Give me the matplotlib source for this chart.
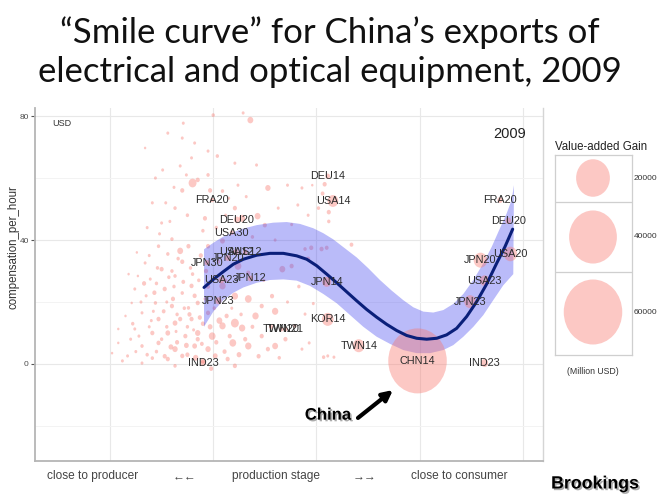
import matplotlib
matplotlib.use("Agg")
import matplotlib.pyplot as plt
import matplotlib.patheffects as pe
from matplotlib.path import Path
from matplotlib.transforms import Affine2D

# background cloud of exporters (production stage, compensation per hour, value-added gain)
cloud_x = [2.00, 2.29, 2.36, 1.71, 1.56, 1.70, 1.34, 1.82, 1.95, 2.04, 1.79, 1.68, 1.51, 1.95, 2.21, 2.42,
           2.53, 1.80, 1.85, 1.70, 1.44, 1.41, 1.50, 1.63, 1.75, 1.92, 2.21, 2.28, 2.43, 2.50, 2.09, 2.15,
           1.97, 2.24, 2.86, 2.82, 2.92, 3.06, 3.12, 2.72, 2.63, 3.02, 2.96, 3.08, 3.12, 3.34, 2.95, 3.10,
           2.93, 3.07, 3.17, 2.97,
           1.68, 1.76, 1.56, 1.34, 1.50, 1.63, 1.39, 1.24, 1.53, 1.70, 1.79, 1.44, 1.60, 1.76, 1.31, 1.15,
           1.47, 1.63, 1.79, 1.24, 1.41, 1.56, 1.73, 1.85, 1.08, 1.31, 1.47, 1.63, 1.82, 1.95, 1.17, 1.41,
           1.56, 1.70, 2.02, 2.14, 1.99, 2.09, 2.21, 2.28, 2.34, 2.21, 2.13, 2.41, 2.19, 2.34, 2.47, 2.53,
           2.60, 2.70, 2.47, 2.57, 2.60, 2.67, 2.76, 2.92, 3.05, 2.89, 1.95, 2.09, 2.24, 2.34, 2.09, 1.85,
           1.95, 2.21, 1.31, 1.63, 1.02, 1.08, 1.21, 1.27, 1.47, 1.60, 2.79, 2.86, 2.89, 3.11,
           1.35, 1.45, 1.55, 1.65, 1.75, 1.85, 1.50, 1.40, 1.30, 1.20, 1.60, 1.70, 1.80, 1.90, 1.95, 1.55,
           1.45, 1.65, 1.75, 1.90, 1.25, 1.38, 1.48, 1.58, 1.90, 1.62, 1.72, 1.82, 1.88, 1.42]
cloud_y = [80.3, 81.0, 78.7, 77.7, 74.5, 72.9, 69.7, 71.3, 68.7, 67.1, 66.5, 63.9, 62.6, 61.0, 64.8, 64.2,
           56.8, 58.4, 59.4, 56.0, 60.0, 52.0, 45.5, 50.3, 48.0, 47.0, 50.3, 47.0, 47.7, 44.8, 55.8, 53.5,
           56.0, 57.7, 56.8, 51.3, 48.0, 55.0, 49.0, 57.7, 50.3, 50.3, 57.7, 58.0, 46.0, 38.5, 37.5, 37.5,
           6.8, 2.2, 2.2, 19.5,
           36.5, 38.0, 35.5, 32.6, 30.6, 28.4, 27.4, 24.2, 24.2, 22.9, 25.2, 19.7, 18.7, 18.1, 16.5, 15.5,
           14.5, 13.2, 14.5, 11.3, 10.0, 10.0, 9.0, 10.0, 6.8, 5.8, 6.8, 4.8, 5.8, 4.8, 2.6, 1.9,
           1.6, 2.6, 2.6, 1.6, 9.0, 12.3, 13.2, 11.6, 21.0, 21.9, 15.5, 15.5, 6.8, 5.8, 9.0, 4.8,
           5.8, 8.0, 18.7, 21.9, 17.0, 30.6, 31.6, 33.9, 37.1, 37.1, 38.0, 39.7, 31.6, 29.4, 25.2, 19.7,
           16.5, -0.6, 0.3, -0.6, 3.5, 11.3, 19.7, 28.4, 38.0, 40.3, 12.3, 4.8, 16.1, 2.6,
           22.0, 26.0, 20.0, 16.0, 12.0, 8.0, 8.0, 14.0, 20.0, 8.0, 30.0, 33.0, 29.0, 13.0, 25.0, 12.0,
           4.0, 7.0, 3.0, 1.0, 4.0, 35.0, 42.0, 46.0, 43.0, 25.0, 18.0, 22.0, 35.0, 17.0]
cloud_v = [200, 150, 600, 150, 150, 150, 100, 150, 150, 200, 150, 150, 150, 200, 150, 150,
           500, 1100, 300, 300, 150, 150, 150, 200, 200, 300, 300, 700, 600, 300, 200, 150,
           300, 150, 150, 150, 150, 250, 300, 150, 150, 200, 100, 300, 200, 250, 300, 250,
           150, 200, 150, 150,
           600, 300, 200, 150, 300, 200, 150, 150, 300, 200, 300, 200, 300, 200, 150, 100,
           300, 400, 300, 150, 300, 400, 300, 500, 100, 200, 300, 500, 400, 500, 150, 200,
           300, 300, 400, 300, 800, 700, 1100, 700, 800, 700, 300, 700, 800, 700, 300, 300,
           600, 300, 300, 300, 700, 600, 300, 300, 300, 200, 300, 400, 800, 300, 700, 300,
           300, 300, 150, 200, 100, 100, 100, 100, 200, 200, 200, 150, 150, 150,
           150, 200, 150, 200, 200, 300, 200, 150, 150, 150, 200, 300, 200, 300, 300, 200,
           200, 300, 300, 400, 150, 150, 150, 150, 200, 200, 200, 300, 300, 150]

# more of the dense lower-left part of the cloud
cloud_x2 = [1.12, 1.22, 1.28, 1.33, 1.36, 1.38, 1.43, 1.46, 1.52, 1.53, 1.57, 1.59, 1.61, 1.64, 1.66,
            1.68, 1.71, 1.74, 1.77, 1.78, 1.81, 1.83, 1.86, 1.87, 1.89, 1.92, 1.93, 1.97, 1.98, 2.01,
            2.03, 2.05, 2.06, 2.11, 2.12, 2.16, 2.18, 2.25, 2.27, 2.31, 2.38, 2.44, 2.49, 2.56, 2.64,
            2.72, 2.83, 1.18, 1.26, 1.36, 1.54, 1.62, 1.74, 2.03, 2.12, 2.32, 2.38, 2.60, 2.76]
cloud_y2 = [1.0, 13, 9, 26, 3, 12, 23, 31, 17, 2.5, 28, 5.5, 21, 10.5, 34,
            14.5, 26.5, 6, 16, 31, 11, 2, 27, 15, 6.5, 21, 30, 12, -1.5, 18,
            7, 33, 14, 4, 27, 9, 18, 3, 16, 8, 12, 2.5, 27, 12, 2,
            20, 25, 29, 36, 44, 52, 57, 61, 44, 48, 54, 41, 40, 45]
cloud_v2 = [150, 200, 150, 300, 200, 150, 300, 200, 250, 300, 200, 400, 300, 150, 200,
            300, 250, 400, 300, 200, 150, 500, 200, 300, 250, 150, 300, 400, 300, 200,
            300, 200, 600, 300, 200, 300, 150, 400, 200, 300, 250, 300, 150, 300, 200,
            150, 200, 100, 100, 150, 150, 150, 150, 200, 150, 150, 200, 150, 150]

# labelled country-industry points
lab_text = ["FRA20", "DEU20", "USA30", "JPN30", "JPN20", "USA12", "AUS12", "USA23", "JPN12", "JPN23",
            "TWN20", "TWN21", "IND23", "DEU14", "USA14", "JPN14", "KOR14", "TWN14", "CHN14",
            "IND23", "FRA20", "DEU20", "USA20", "JPN20", "USA23", "JPN23"]
lab_x = [1.99, 2.23, 2.18, 1.94, 2.14, 2.22, 2.31, 2.08, 2.36, 2.05,
         2.66, 2.70, 1.90, 3.11, 3.16, 3.10, 3.11, 3.41, 3.98,
         4.63, 4.78, 4.86, 4.88, 4.59, 4.63, 4.49]
lab_y = [52.9, 46.5, 42.4, 32.7, 34.2, 36.1, 36.1, 27.1, 27.6, 20.4,
         11.2, 11.2, 0.3, 60.6, 52.6, 26.5, 14.4, 5.9, 1.0,
         0.3, 52.9, 46.2, 35.5, 33.5, 26.9, 20.1]
lab_v = [300, 600, 300, 400, 500, 500, 400, 600, 500, 700,
         300, 300, 500, 400, 2000, 1400, 2400, 2400, 60000,
         900, 500, 600, 3000, 3200, 1600, 2400]

# fitted smile curve and its confidence band
smooth_x = [1.911, 2.001, 2.098, 2.195, 2.292, 2.421, 2.550, 2.680, 2.809, 2.906, 3.003, 3.100,
            3.197, 3.293, 3.390, 3.487, 3.584, 3.681, 3.778, 3.875, 3.972, 4.069, 4.166, 4.262,
            4.359, 4.456, 4.553, 4.650, 4.747, 4.827, 4.902]
smooth_y = [24.7, 27.3, 29.8, 32.2, 33.8, 35.1, 35.7, 35.7, 34.9, 33.8, 31.7, 29.0,
            26.2, 23.3, 20.4, 17.6, 15.1, 12.8, 10.8, 9.2, 8.3, 8.0, 8.3, 9.4,
            11.5, 15.3, 20.1, 25.8, 32.5, 37.8, 43.5]
band_hi_x = [1.911, 2.001, 2.098, 2.259, 2.421, 2.582, 2.712, 2.841, 2.970, 3.067, 3.164, 3.277,
             3.390, 3.503, 3.616, 3.729, 3.842, 3.939, 4.036, 4.133, 4.230, 4.327, 4.424, 4.521,
             4.618, 4.699, 4.779, 4.844, 4.892, 4.915]
band_hi_y = [37.0, 39.1, 41.1, 43.4, 44.8, 45.6, 45.8, 45.2, 43.8, 42.2, 40.2, 37.3,
             34.4, 30.9, 27.1, 23.7, 20.6, 18.3, 16.9, 16.6, 17.4, 19.4, 22.6, 27.1,
             32.5, 37.8, 43.8, 48.6, 52.9, 57.7]
band_lo_x = [1.911, 2.001, 2.098, 2.195, 2.292, 2.421, 2.550, 2.680, 2.809, 2.938, 3.067, 3.197,
             3.326, 3.455, 3.584, 3.713, 3.842, 3.972, 4.101, 4.230, 4.327, 4.424, 4.521, 4.618,
             4.714, 4.811, 4.908]
band_lo_y = [12.0, 16.9, 20.6, 23.0, 24.7, 26.2, 27.1, 27.3, 26.9, 25.2, 22.6, 19.6,
             15.8, 12.0, 8.8, 6.5, 4.5, 3.5, 3.5, 4.5, 6.1, 8.8, 12.0, 15.8,
             20.6, 25.4, 29.0]

legend_vals = [20000, 40000, 60000]
legend_labels = ["20000", "40000", "60000"]

SIZE_K = 0.0365
PINK = "#F8766D"
LABEL_FONT = ["Liberation Sans", "DejaVu Sans"]


def px(x):
    return x / 660


def py(y):
    return 1 - y / 500


def to_s(vals):
    return [v * SIZE_K for v in vals]


# slightly tall circles, like the stretched slide
blob = Path.unit_circle().transformed(Affine2D().scale(0.9, 1.0))

fig = plt.figure(figsize=(6.6, 5), dpi=100)
fig.patch.set_facecolor("white")

ax = fig.add_axes([px(35), py(461), px(543 - 35), (461 - 108) / 500])
ax.set_xlim(0.273, 5.196)
ax.set_ylim(-31.3, 82.6)

ax.set_xticks([1, 2, 3, 4, 5])
ax.set_xticklabels([])
ax.tick_params(axis="x", length=0)
ax.set_yticks([0, 40, 80])
ax.set_yticks([-20, 20, 60], minor=True)
ax.tick_params(axis="y", which="major", length=3, width=0.8, color="#555555",
               labelsize=6, labelcolor="#4d4d4d", pad=1.5)
ax.tick_params(axis="y", which="minor", length=0)
ax.grid(which="major", color="#e8e8e8", lw=0.8)
ax.grid(which="minor", axis="y", color="#f3f3f3", lw=0.7)
ax.set_axisbelow(True)
for lbl in ax.get_yticklabels():
    lbl.set_family(LABEL_FONT)
ax.spines["top"].set_visible(False)
ax.spines["left"].set_color("#b5b5b5")
ax.spines["left"].set_linewidth(1.3)
ax.spines["bottom"].set_color("#b5b5b5")
ax.spines["bottom"].set_linewidth(1.3)
ax.spines["right"].set_color("#d5d5d5")
ax.spines["right"].set_linewidth(1.0)

ax.scatter(cloud_x + cloud_x2, cloud_y + cloud_y2, s=to_s(cloud_v + cloud_v2), marker=blob,
           color=PINK, alpha=0.4, linewidths=0, zorder=2)
ax.fill(band_hi_x + band_lo_x[::-1], band_hi_y + band_lo_y[::-1], color="#3a3cf0",
        alpha=0.35, lw=0, zorder=3)
ax.scatter(lab_x, lab_y, s=to_s(lab_v), marker=blob, color=PINK, alpha=0.4,
           linewidths=0, zorder=4)
ax.plot(smooth_x, smooth_y, color="#0a1f7a", lw=2.2, solid_capstyle="round",
        solid_joinstyle="round", zorder=5)

for t, x, y in zip(lab_text, lab_x, lab_y):
    ax.text(x, y, t, fontsize=7.8, family=LABEL_FONT, color="#2b2b2b",
            ha="center", va="center", zorder=6)

ax.text(0.034, 0.955, "USD", transform=ax.transAxes, fontsize=6.5, family=LABEL_FONT,
        color="#333333", ha="left", va="center")
ax.text(0.935, 0.925, "2009", transform=ax.transAxes, fontsize=10.5, family=LABEL_FONT,
        color="#222222", ha="center", va="center")

shadow = [pe.withSimplePatchShadow(offset=(1.2, -1.2), shadow_rgbFace="#888888", alpha=0.7)]
ax.text(3.11, -16.5, "China", fontsize=12, fontweight="bold", family=LABEL_FONT,
        ha="center", va="center", zorder=7, path_effects=shadow)
ax.annotate("", xy=(3.742, -8.4), xytext=(3.403, -17.4), zorder=7,
            arrowprops=dict(arrowstyle="-|>", color="black", lw=3, mutation_scale=15,
                            shrinkA=0, shrinkB=0))

fig.text(px(14), py(247), "compensation_per_hour", rotation=90, fontsize=8.3,
         family=LABEL_FONT, color="#333333", ha="center", va="center")

# x axis wording
for txt, cx in [("close to producer", 93), ("\u2190\u2190", 185), ("production stage", 276),
                ("\u2192\u2192", 365), ("close to consumer", 459)]:
    fig.text(px(cx), py(476), txt, fontsize=8.6, family=LABEL_FONT, color="#444444",
             ha="center", va="center")

fig.text(px(595), py(484), "Brookings", fontsize=12.8, fontweight="bold", family=LABEL_FONT,
         ha="center", va="center", path_effects=shadow)

# title
title_font = ["Lato", "DejaVu Sans"]
fig.text(0.5, py(43), "\u201cSmile curve\u201d for China\u2019s exports of", fontsize=25,
         family=title_font, ha="center", va="baseline", color="#111111")
fig.text(0.5, py(82), "electrical and optical equipment, 2009", fontsize=25,
         family=title_font, ha="center", va="baseline", color="#111111")

# size legend
lax = fig.add_axes([px(555), py(355), px(632 - 555), (355 - 155) / 500])
lax.set_xlim(555, 632)
lax.set_ylim(355, 155)
lax.set_xticks([])
lax.set_yticks([])
for sp in lax.spines.values():
    sp.set_color("#cfcfcf")
    sp.set_linewidth(0.9)
lax.axhline(202, color="#cfcfcf", lw=0.9)
lax.axhline(272, color="#cfcfcf", lw=0.9)
leg_y = [178, 237, 312]
lax.scatter([593] * 3, leg_y, s=to_s(legend_vals), marker=blob, color=PINK, alpha=0.4,
            linewidths=0, clip_on=False)
for lab, y in zip(legend_labels, leg_y):
    fig.text(px(634), py(y), lab, fontsize=6, family=LABEL_FONT, color="#333333",
             ha="left", va="center")
fig.text(px(555), py(147), "Value-added Gain", fontsize=8.3, family=LABEL_FONT,
         color="#222222", ha="left", va="center")
fig.text(px(593), py(372), "(Million USD)", fontsize=6.3, family=LABEL_FONT,
         color="#333333", ha="center", va="center")

fig.savefig("out.png", dpi=100)
